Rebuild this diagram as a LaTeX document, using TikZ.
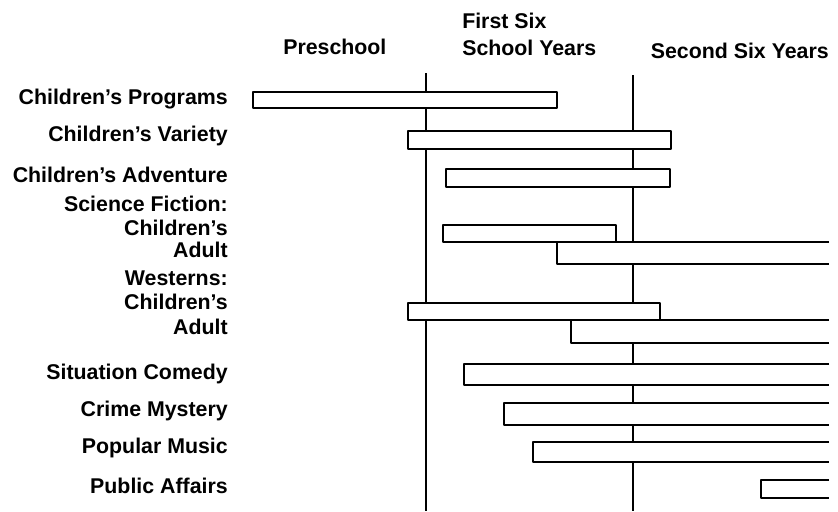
\documentclass[tikz,border=0pt]{standalone}
\usepackage{fontspec}
\setmainfont{Liberation Sans}
\usetikzlibrary{positioning}

\begin{document}
\begin{tikzpicture}[x=0.75pt, y=-0.75pt,
    every node/.style={font=\fontsize{16}{20.25}\selectfont\bfseries},
    label/.style={anchor=east, inner sep=0pt},
    stage/.style={inner sep=0pt, align=left},
    bar/.style={draw, fill=white, line width=2.1pt, line join=round},
    divide/.style={line width=1.4pt}]
    \useasboundingbox (0,0) rectangle (838,511);
    % period headings
    \node[stage, anchor=west] (pre) at (283,47) {Preschool};
    \node[stage, anchor=west] (first) at (462,34) {First Six\\School Years};
    \node[stage, anchor=east] (second) at (829,51) {Second Six Years};
    % dividing lines
    \coordinate (d1top) at (426,73);
    \coordinate (d1bot) at (426,511);
    \coordinate (d2top) at (633,75);
    \coordinate (d2bot) at (633,511);
    \draw[divide] (d1top) -- (d1bot);
    \draw[divide] (d2top) -- (d2bot);
    % program labels
    \node[label] (cprog) at (228,99) {Children's Programs};
    \node[label] (cvar) at (228,136) {Children's Variety};
    \node[label] (cadv) at (228,175) {Children's Adventure};
    \node[label] (sf) at (228,204) {Science Fiction:};
    \node[label] (sfc) at (228,228) {Children's};
    \node[label] (sfa) at (228,250) {Adult};
    \node[label] (west) at (228,278) {Westerns:};
    \node[label] (wc) at (228,302) {Children's};
    \node[label] (wa) at (228,327) {Adult};
    \node[label] (sit) at (228,374) {Situation Comedy};
    \node[label] (crime) at (228,411) {Crime Mystery};
    \node[label] (music) at (228,448) {Popular Music};
    \node[label] (pub) at (228,486) {Public Affairs};
    % bars closed at both ends
    \draw[bar] (253,92) rectangle (557,108);
    \draw[bar] (408,131) rectangle (671,149);
    \draw[bar] (446,169) rectangle (670,187);
    % bars that run on past the edge
    \draw[bar] (829,242) -| (557,264) -- (829,264);
    \draw[bar] (443,225) rectangle (616,242);
    \draw[bar] (829,320) -| (571,343) -- (829,343);
    \draw[bar] (408,303) rectangle (660,320);
    \draw[bar] (829,364) -| (464,385) -- (829,385);
    \draw[bar] (829,403) -| (504,425) -- (829,425);
    \draw[bar] (829,442) -| (533,462) -- (829,462);
    \draw[bar] (829,480) -| (761,498) -- (829,498);
\end{tikzpicture}
\end{document}
